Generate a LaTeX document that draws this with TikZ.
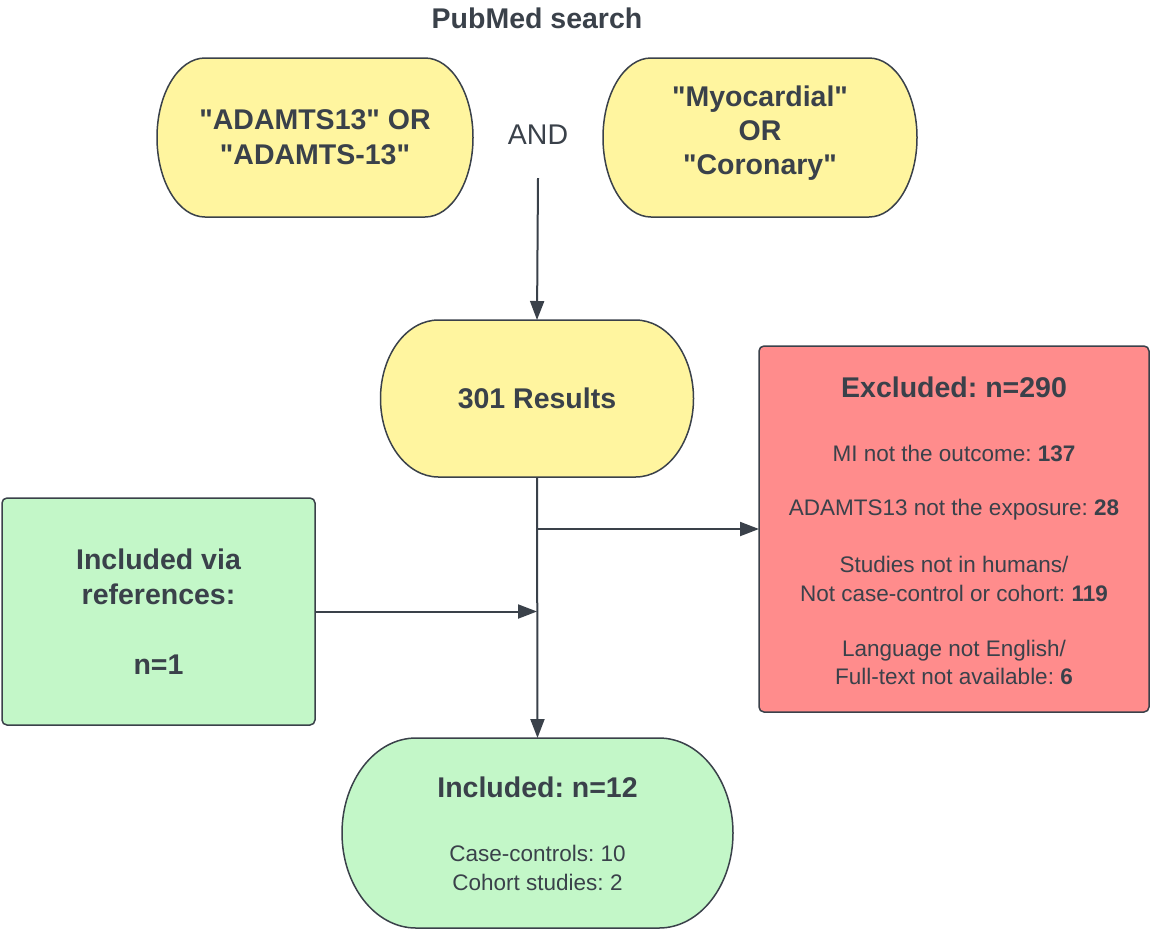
\documentclass[tikz,border=0pt]{standalone}
\usepackage{fontspec}
\setmainfont{Liberation Sans}[Ligatures=TeXOff]
\frenchspacing
\usetikzlibrary{arrows.meta,calc}
\definecolor{ink}{HTML}{3A414A}
\definecolor{yel}{HTML}{FFF59F}
\definecolor{grn}{HTML}{C3F7C8}
\definecolor{rd}{HTML}{FF8C8C}
% #1 node, #2 x radius, #3 half height, #4 fill
\newcommand{\termshape}[4]{%
  \draw[line width=1.5pt,draw=ink,fill=#4]
    ($(#1.north west)+(#2,0)$) -- ($(#1.north east)+(-#2,0)$)
    arc[start angle=90,end angle=-90,x radius=#2,y radius=#3]
    -- ($(#1.south west)+(#2,0)$)
    arc[start angle=270,end angle=90,x radius=#2,y radius=#3] -- cycle;}
\tikzset{
  x=1pt,y=1pt,
  shapebox/.style={inner sep=0pt,outer sep=0pt,draw=none},
  bigtxt/.style={text=ink,font=\fontsize{28.5}{35}\selectfont\bfseries\frenchspacing,align=center,inner sep=0pt},
  smalltxt/.style={text=ink,font=\fontsize{22.5}{28.5}\selectfont\frenchspacing,align=center,inner sep=0pt},
  plaintxt/.style={text=ink,font=\fontsize{28.5}{35}\selectfont,inner sep=0pt},
  sqbox/.style={draw=ink,line width=1.5pt,rounded corners=5pt,inner sep=0pt,outer sep=0pt},
  arr/.style={draw=ink,line width=2pt,-{Triangle[length=19pt,width=14pt]}}
}
\begin{document}
\begin{tikzpicture}
\useasboundingbox (0,0) rectangle (1150,-930);
% shape nodes
\node[shapebox,minimum width=316,minimum height=159] (q1) at (315,-137.5) {};
\node[shapebox,minimum width=314,minimum height=159] (q2) at (760,-137.5) {};
\node[shapebox,minimum width=313,minimum height=157] (res) at (537,-398.5) {};
\node[shapebox,minimum width=391,minimum height=190] (inc) at (537.5,-833) {};
\termshape{q1}{48}{79.5}{yel}
\termshape{q2}{48}{79.5}{yel}
\termshape{res}{58}{78.5}{yel}
\termshape{inc}{74}{95}{grn}
\node[sqbox,fill=rd,minimum width=390,minimum height=366] (excl) at (954,-529) {};
\node[sqbox,fill=grn,minimum width=313,minimum height=227,bigtxt] (refs) at (158.5,-611.5)
  {Included via\\references:\\[35pt]n=1};
% texts
\node[bigtxt] (title) at (537,-18) {PubMed search};
\node[bigtxt] (q1t) at (q1) {"ADAMTS13" OR\\"ADAMTS-13"};
\node[bigtxt,font=\fontsize{28.5}{34}\selectfont\bfseries] (q2t) at (760,-133.5) {"Myocardial"\\OR\\"Coronary"};
\node[plaintxt] (and) at (538,-135) {AND};
\node[bigtxt] (rest) at (res) {301 Results};
\node[bigtxt] (exh) at (954,-387) {Excluded: n=290};
\node[smalltxt] (ex1) at (954,-453) {MI not the outcome: \textbf{137}};
\node[smalltxt] (ex2) at (954,-510) {ADAMTS13 not the exposure: \textbf{28}};
\node[smalltxt] (ex3) at (954,-579) {Studies not in humans/\\Not case-control or cohort: \textbf{119}};
\node[smalltxt] (ex4) at (954,-662.5) {Language not English/\\Full-text not available: \textbf{6}};
\node[bigtxt] (inch) at (537.5,-787) {Included: n=12};
\node[smalltxt,font=\fontsize{22.5}{29}\selectfont\frenchspacing] (incs) at (537.5,-867.5) {Case-controls: 10\\Cohort studies: 2};
% connectors
\coordinate (andbot) at (538,-178);
\draw[arr] (andbot) -- (res.north);
\draw[arr] (res.south) -- (inc.north);
\draw[arr] (res.south |- excl.west) -- (excl.west);
\draw[arr] (refs.east) -- (res.south |- refs.east);
\end{tikzpicture}
\end{document}
